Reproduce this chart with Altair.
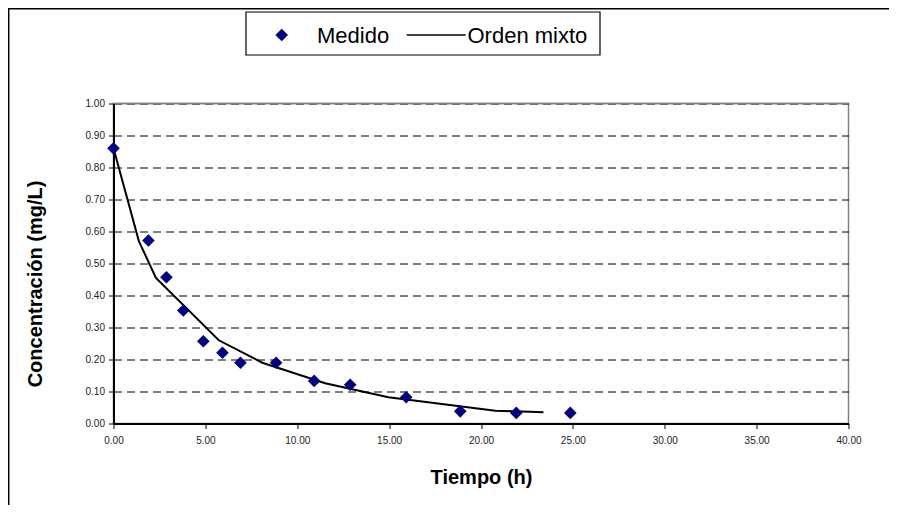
import altair as alt
import pandas as pd

# Measured data
tiempo_medido = [0, 1.9, 2.88, 3.8, 4.89, 5.93, 6.91, 8.85, 10.92, 12.88, 15.93, 18.87, 21.92, 24.86]
conc_medida = [0.86, 0.572, 0.457, 0.353, 0.257, 0.221, 0.19, 0.19, 0.133, 0.121, 0.082, 0.038, 0.033, 0.033]

# Mixed-order model curve
tiempo_modelo = [0, 1.38, 2.31, 5.73, 8.1, 11.52, 14.96, 20.78, 23.4]
conc_modelo = [0.86, 0.57, 0.455, 0.26, 0.19, 0.126, 0.082, 0.04, 0.035]

x_ticks = [0, 5, 10, 15, 20, 25, 30, 35, 40]
y_ticks = [0, 0.1, 0.2, 0.3, 0.4, 0.5, 0.6, 0.7, 0.8, 0.9, 1.0]

FONT = "Liberation Sans"

df_med = pd.DataFrame({"t": tiempo_medido, "c": conc_medida})
df_mod = pd.DataFrame({"t": tiempo_modelo, "c": conc_modelo})
one = pd.DataFrame({"k": [0]})

x_scale = alt.Scale(domain=[0, 40], nice=False, zero=False)
y_scale = alt.Scale(domain=[0, 1], nice=False)

x_axis = alt.Axis(
    values=x_ticks, format=".2f", title="Tiempo (h)",
    domainColor="black", domainWidth=2, tickColor="black", tickSize=5, tickWidth=1,
    labelFont=FONT, labelFontSize=10, labelColor="#222222", labelPadding=7,
    labelFlush=False, labelOverlap=False,
    titleFont=FONT, titleFontSize=20, titleFontWeight="bold", titleColor="black",
    titlePadding=22, grid=False,
)
y_axis = alt.Axis(
    values=y_ticks, tickCount=11, format=".2f", title="Concentración (mg/L)",
    domainColor="black", domainWidth=2, tickColor="black", tickSize=5, tickWidth=1,
    labelFont=FONT, labelFontSize=10, labelColor="#222222", labelPadding=4,
    labelFlush=False, labelOverlap=False,
    titleFont=FONT, titleFontSize=20, titleFontWeight="bold", titleColor="black",
    titleX=-78.5, titleY=180, titleAngle=270, titleAlign="center", titleBaseline="middle",
    grid=True, gridColor="black", gridDash=[8, 5], gridWidth=1,
)

frame = alt.Chart(one).mark_rect(fillOpacity=0, stroke="black", strokeWidth=1.5).encode(
    x=alt.value(-104.8), x2=alt.value(800), y=alt.value(-94.8), y2=alt.value(420)
)

legend_box = alt.Chart(one).mark_rect(fill="white", stroke="black", strokeWidth=1.2).encode(
    x=alt.value(132.5), x2=alt.value(486.5), y=alt.value(-91.5), y2=alt.value(-48.5)
)
legend_diamond = alt.Chart(one).mark_point(shape="diamond", filled=True, color="#000080", size=160, opacity=1).encode(
    x=alt.value(168.2), y=alt.value(-68.5)
)
legend_line = alt.Chart(one).mark_rule(color="black", strokeWidth=1.5).encode(
    x=alt.value(293.2), x2=alt.value(352.2), y=alt.value(-68.5)
)
legend_t1 = alt.Chart(one).mark_text(text="Medido", font=FONT, fontSize=22, align="left", baseline="alphabetic", color="black").encode(
    x=alt.value(203.5), y=alt.value(-60.8)
)
legend_t2 = alt.Chart(one).mark_text(text="Orden mixto", font=FONT, fontSize=22, align="left", baseline="alphabetic", color="black").encode(
    x=alt.value(354.0), y=alt.value(-60.8)
)

line = alt.Chart(df_mod).mark_line(color="black", strokeWidth=2).encode(
    x=alt.X("t:Q", scale=x_scale, axis=x_axis),
    y=alt.Y("c:Q", scale=y_scale, axis=y_axis),
)
points = alt.Chart(df_med).mark_point(shape="diamond", filled=True, color="#000080", size=160, opacity=1).encode(
    x=alt.X("t:Q", scale=x_scale, axis=x_axis),
    y=alt.Y("c:Q", scale=y_scale, axis=y_axis),
)

# top border of plot area drawn above the grid line at 1.00
top_border = alt.Chart(one).mark_rule(color="#808080", strokeWidth=1.5).encode(
    x=alt.value(0), x2=alt.value(735), y=alt.value(0)
)

chart = alt.layer(
    frame, line, points, top_border, legend_box, legend_diamond, legend_line, legend_t1, legend_t2
).properties(
    width=735, height=320,
    autosize=alt.AutoSizeParams(type="none"),
    padding={"left": 105.5, "top": 95.5, "right": 40.5, "bottom": 81.5},
    background="white",
).configure_view(
    stroke="#808080", strokeWidth=1.5
)

chart.save("out.html", embed_options={"renderer": "svg", "actions": False})
